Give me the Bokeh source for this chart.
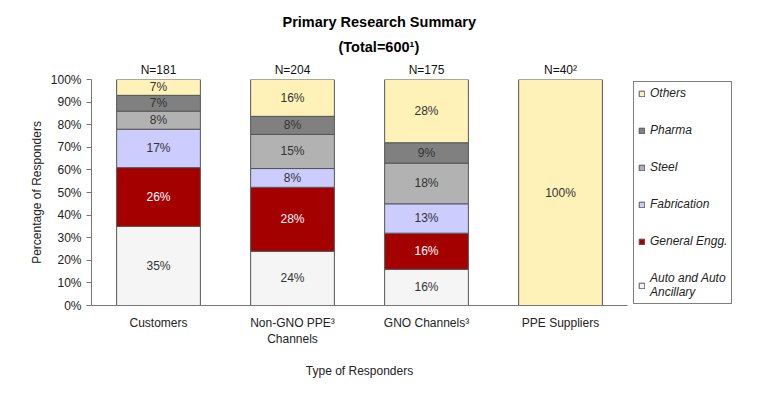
from bokeh.plotting import figure
from bokeh.models import (ColumnDataSource, Legend, LegendItem, LabelSet, Title,
                          FixedTicker, PrintfTickFormatter, Range1d, FactorRange,
                          CategoricalAxis)
from bokeh.core.properties import value
from bokeh.embed import file_html
from bokeh.resources import INLINE

categories = ["Customers", "Non-GNO PPE³\nChannels", "GNO Channels³", "PPE Suppliers"]
n_labels = ["N=181", "N=204", "N=175", "N=40²"]
segment_keys = ["auto", "general", "fabrication", "steel", "pharma", "others"]
segment_names = ["Auto and Auto\nAncillary", "General Engg.", "Fabrication", "Steel", "Pharma", "Others"]
auto = [35, 24, 16, 0]
general = [26, 28.3, 16, 0]
fabrication = [17, 8.3, 13, 0]
steel = [8, 15.1, 18, 0]
pharma = [7, 8, 9, 0]
others = [7, 16.3, 28, 100]
colors = ["#F5F5F5", "#A50000", "#CCCCFF", "#B2B2B2", "#808080", "#FFF2B8"]
label_colors = ["#333333", "#FFFFFF", "#333333", "#333333", "#333333", "#333333"]

FONT = "Liberation Sans"

series = dict(auto=auto, general=general, fabrication=fabrication, steel=steel,
              pharma=pharma, others=others)
source = ColumnDataSource(dict(cat=categories, **series))

p = figure(x_range=FactorRange(*categories, range_padding=0), y_range=Range1d(0, 100),
           frame_width=536, frame_height=226, output_backend="svg", toolbar_location=None,
           min_border_left=91, min_border_right=138, min_border_top=79,
           min_border_bottom=86)
p.outline_line_color = None
p.xgrid.grid_line_color = None
p.ygrid.grid_line_color = None
p.extra_x_ranges = {"n": FactorRange(*n_labels, range_padding=0)}

renderers = p.vbar_stack(segment_keys, x="cat", width=0.625, source=source,
                         fill_color=colors, line_color="#555555", line_width=1)

# segment labels
lx, ly, lt, lc = [], [], [], []
for i, c in enumerate(categories):
    base = 0
    for k, key in enumerate(segment_keys):
        v = series[key][i]
        if v > 0:
            lx.append(c)
            ly.append(base + v / 2)
            lt.append(f"{round(v)}%")
            lc.append(label_colors[k])
        base += v
lsrc = ColumnDataSource(dict(x=lx, y=ly, text=lt, color=lc))
p.add_layout(LabelSet(x="x", y="y", text="text", source=lsrc, text_color="color",
                      text_align="center", text_baseline="middle",
                      text_font=value(FONT), text_font_size="12px"))

# N labels as a top categorical axis
top = CategoricalAxis(x_range_name="n")
top.axis_line_color = None
top.major_tick_line_color = None
top.minor_tick_line_color = None
top.major_label_standoff = -3
top.major_label_text_font = FONT
top.major_label_text_font_size = "12px"
top.major_label_text_color = "#111111"
p.add_layout(top, "above")

# titles
p.add_layout(Title(text="(Total=600¹)", align="left", offset=247,
                   text_font=FONT, text_font_size="14.5px", text_font_style="bold",
                   text_color="#000000", standoff=10), "above")
p.title.text = "Primary Research Summary"
p.title.align = "left"
p.title.offset = 191
p.title.text_font = FONT
p.title.text_font_size = "14.5px"
p.title.text_font_style = "bold"
p.title.text_color = "#000000"
p.title.standoff = 3

# axes
p.yaxis.ticker = FixedTicker(ticks=list(range(0, 101, 10)))
p.yaxis.formatter = PrintfTickFormatter(format="%d%%")
p.yaxis.minor_tick_line_color = None
p.yaxis.major_tick_out = 5
p.yaxis.major_tick_in = 0
p.yaxis.axis_line_color = "#777777"
p.yaxis.major_tick_line_color = "#777777"
p.yaxis.major_label_text_font = FONT
p.yaxis.major_label_text_font_size = "12px"
p.yaxis.major_label_text_color = "#222222"
p.yaxis.major_label_standoff = 5
p.yaxis.axis_label = "Percentage of Responders"
p.yaxis.axis_label_text_font = FONT
p.yaxis.axis_label_text_font_size = "12px"
p.yaxis.axis_label_text_font_style = "normal"
p.yaxis.axis_label_text_color = "#222222"
p.yaxis.axis_label_standoff = 4

xa = p.below[0]
xa.major_tick_line_color = None
xa.minor_tick_line_color = None
xa.axis_line_color = "#777777"
xa.major_label_text_font = FONT
xa.major_label_text_font_size = "12px"
xa.major_label_text_color = "#222222"
xa.major_label_standoff = 4
xa.axis_label = "Type of Responders"
xa.axis_label_text_font = FONT
xa.axis_label_text_font_size = "12px"
xa.axis_label_text_font_style = "normal"
xa.axis_label_text_color = "#222222"
xa.axis_label_standoff = 15

# legend
items = [LegendItem(label=segment_names[k], renderers=[renderers[k]])
         for k in reversed(range(len(segment_keys)))]
legend = Legend(items=items, location=(6, 1), margin=0, padding=4,
                spacing=23, glyph_width=7, glyph_height=7, label_standoff=5,
                label_text_font=FONT, label_text_font_size="12px",
                label_text_font_style="italic", label_text_color="#222222",
                border_line_color="#000000", border_line_width=1,
                background_fill_color="#FFFFFF", background_fill_alpha=1,
                label_height=12)
p.add_layout(legend, "right")

open("out.html", "w").write(file_html(p, INLINE))
